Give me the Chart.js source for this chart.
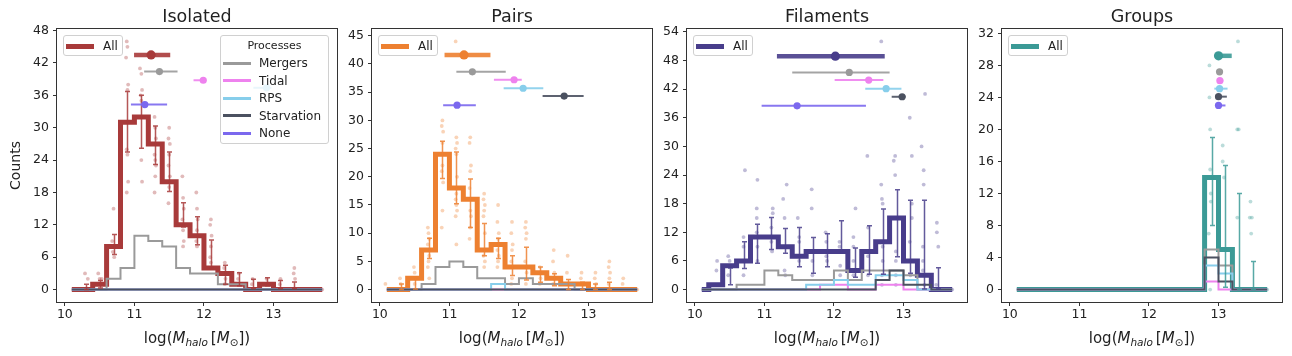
<!DOCTYPE html>
<html lang="en">
<head>
  <meta charset="UTF-8">
  <title>Halo mass distributions</title>
  <script src="https://cdn.jsdelivr.net/npm/chart.js"></script>
  <style>
    body {
      margin: 0;
      background: #fff;
      font-family: 'DejaVu Sans', sans-serif;
      color: #222;
    }

    #fig {
      position: relative;
      width: 1292px;
      height: 356px;
      overflow: hidden;
    }

    #fig canvas {
      position: absolute;
      top: 0;
    }

    .ptitle {
      position: absolute;
      top: 6px;
      width: 280px;
      text-align: center;
      font-size: 17.5px;
      line-height: 20px;
    }

    .xlabel {
      position: absolute;
      top: 328px;
      width: 280px;
      text-align: center;
      font-size: 15px;
      line-height: 20px;
      white-space: nowrap;
    }

    .xlabel sub {
      font-size: 0.7em;
      vertical-align: -0.3em;
      line-height: 0;
    }

    .leg {
      position: absolute;
      box-sizing: border-box;
      border: 1px solid #d0d0d0;
      border-radius: 3px;
      background: rgba(255, 255, 255, 0.8);
      font-size: 12px;
    }

    .row {
      position: absolute;
      left: 0;
      height: 16px;
      line-height: 16px;
      white-space: nowrap;
    }

    .sw {
      position: absolute;
      left: 2px;
      width: 28px;
    }

    .lab {
      position: absolute;
      left: 38px;
    }
  </style>
</head>
<body>
  <div id="fig"></div>

  <script>
    // bin centres (0.2 dex bins) and ticks
    const binCenters = [10.1, 10.3, 10.5, 10.7, 10.9, 11.1, 11.3, 11.5, 11.7, 11.9, 12.1, 12.3, 12.5, 12.7, 12.9, 13.1, 13.3, 13.5, 13.7];
    const xTicks = [10, 11, 12, 13];
    const procNames = ['Mergers', 'Tidal', 'RPS', 'Starvation', 'None'];
    const procColors = ['#9a9a9a', '#ee82ee', '#87ceeb', '#4b5160', '#7b68ee'];

    // ---- Isolated ----
    const isoAll = [0, 0, 1, 8, 31, 32, 27, 20, 12, 10, 4, 3, 1, 0, 1, 0, 0, 0, 0];
    const isoMergers = [0, 0, 0, 2, 4, 10, 9, 8, 4, 3, 3, 1, 1, 0, 0, 0, 0, 0, 0];
    const isoTidal = [0, 0, 0, 0, 0, 0, 0, 0, 0, 0, 0, 0, 0, 0, 0, 0, 0, 0, 0];
    const isoRPS = [0, 0, 0, 0, 0, 0, 0, 0, 0, 0, 0, 0, 0, 0, 0, 0, 0, 0, 0];
    const isoStarv = [0, 0, 0, 0, 0, 0, 0, 0, 0, 0, 0, 0, 0, 0, 0, 0, 0, 0, 0];
    const isoErrLo = [null, 0, 0.3, 6.5, 25.5, 26.2, 23.2, 18.2, 11.6, 8.3, 4, 1, 0.7, 0.2, 0.7, 0.2, 0.2, null, null];
    const isoErrHi = [null, 1, 1.7, 10.2, 36.7, 36, 30.3, 25.5, 16.1, 13.5, 9.2, 4.5, 3.1, 1.9, 2.2, 1.7, 1.4, null, null];
    const isoDotsX = [10.29, 10.33, 10.48, 10.5, 10.53, 10.49, 10.7, 10.68, 10.72, 10.69, 10.71,
      10.89, 10.9, 10.88, 10.91, 10.9, 10.89, 10.9, 10.91, 10.89,
      11.08, 11.1, 11.11, 11.09, 11.1, 11.08, 11.1, 11.11,
      11.29, 11.3, 11.31, 11.29, 11.3, 11.31, 11.3, 11.29,
      11.5, 11.49, 11.51, 11.5, 11.49, 11.51, 11.5, 11.49,
      11.69, 11.7, 11.71, 11.69, 11.7, 11.71, 11.7,
      11.89, 11.9, 11.91, 11.9, 11.89, 11.9,
      12.1, 12.09, 12.11, 12.1, 12.09, 12.1, 12.11,
      12.3, 12.29, 12.31, 12.3, 12.5, 12.49, 12.51, 12.7, 12.69, 12.9, 12.91,
      13.1, 13.09, 13.3, 13.29, 13.31, 13.5, 13.7];
    const isoDotsY = [3, 2, 3, 2, 2, 1, 15, 9, 8, 7, 6,
      46, 45, 43, 38, 37, 26, 25, 20, 18,
      41, 40, 37, 36, 35, 32, 24, 20,
      32, 30, 28, 25, 24, 23, 21, 18,
      30, 28, 27, 25, 23, 21, 19, 16,
      21, 17, 15, 13, 11, 9, 8,
      18, 15, 13, 11, 9, 8,
      13, 12, 10, 8, 6, 5, 4,
      5, 4, 2, 1, 3, 2, 1, 2, 1, 2, 1,
      2, 1, 4, 3, 2, 0, 0];
    // medians and ranges: All, Mergers, Tidal, RPS, Starvation, None
    const isoMedX = [11.24, 11.36, 11.99, 12.9, null, 11.15];
    const isoMedLo = [10.995, 11.14, 11.85, 12.71, null, 10.95];
    const isoMedHi = [11.515, 11.62, 11.99, 12.97, null, 11.47];
    const isoMedY = [43.5, 40.4, 38.8, 37.4, null, 34.3];

    // ---- Pairs ----
    const pairAll = [0, 0, 2, 7, 24, 18, 16, 7, 8, 4, 4, 3, 2, 1, 1, 0, 0, 0, 0];
    const pairMergers = [0, 0, 0, 1, 4, 5, 4, 2, 2, 1, 2, 1, 1, 1, 0, 0, 0, 0, 0];
    const pairTidal = [0, 0, 0, 0, 0, 0, 0, 0, 0, 0, 0, 0, 0, 0, 0, 0, 0, 0, 0];
    const pairRPS = [0, 0, 0, 0, 0, 0, 0, 0, 1, 0, 0, 0, 0, 0, 0, 0, 0, 0, 0];
    const pairStarv = [0, 0, 0, 0, 0, 0, 0, 0, 0, 0, 0, 0, 0, 0, 0, 0, 0, 0, 0];
    const pairErrLo = [null, 0, 0.1, 5.5, 19.7, 15.2, 11, 6, 5.5, 2.5, 1.7, 1.3, 0.7, 0, 0, 0, 0, null, null];
    const pairErrHi = [null, 1, 2.2, 9.1, 26.3, 24.4, 19.6, 11.7, 9.1, 6, 7.5, 4, 2.8, 1.8, 1.3, 1, 1.3, null, null];
    const pairDotsX = [10.08, 10.29, 10.3, 10.49, 10.5, 10.51, 10.5,
      10.69, 10.7, 10.71, 10.69, 10.7, 10.71, 10.7, 10.69, 10.71,
      10.9, 10.89, 10.91, 10.9, 10.9, 10.89, 10.91, 10.9, 10.89,
      11.09, 11.1, 11.11, 11.09, 11.1, 11.11, 11.1, 11.09, 11.1, 11.11, 11.09, 11.1,
      11.3, 11.29, 11.31, 11.3, 11.29, 11.3, 11.31, 11.3, 11.29,
      11.5, 11.49, 11.51, 11.5, 11.49, 11.51, 11.5, 11.49, 11.51, 11.5,
      11.7, 11.69, 11.71, 11.7, 11.69, 11.71, 11.7, 11.69,
      11.9, 11.89, 11.91, 11.9, 11.89, 11.91, 11.9, 11.89,
      12.1, 12.09, 12.11, 12.1, 12.09, 12.11, 12.1,
      12.3, 12.29, 12.31, 12.3, 12.5, 12.49, 12.51, 12.5, 12.49,
      12.7, 12.69, 12.71, 12.9, 12.89, 12.91, 13.1, 13.09, 13.11,
      13.3, 13.29, 13.31, 13.3, 13.29, 13.5, 13.49, 13.7];
    const pairDotsY = [1, 2, 1, 4, 3, 2, 1,
      11, 10, 9, 8, 7, 6, 5, 4, 2,
      30, 29, 28, 26, 22, 21, 19, 14, 11,
      44, 27, 26, 25, 24, 20, 17, 16, 15, 14, 13, 8,
      27, 26, 22, 21, 18, 14, 13, 11, 9,
      17, 16, 15, 14, 13, 10, 7, 6, 5, 4,
      15, 12, 10, 9, 7, 6, 5, 4,
      12, 10, 8, 7, 5, 4, 2, 1,
      12, 11, 10, 9, 5, 3, 1,
      4, 3, 2, 1, 7, 5, 3, 2, 1,
      6, 3, 1, 3, 2, 1, 3, 2, 1,
      5, 4, 3, 2, 1, 2, 1, 0];
    const pairMedX = [11.21, 11.33, 11.93, 12.06, 12.65, 11.11];
    const pairMedLo = [10.93, 11.10, 11.64, 11.78, 12.34, 10.91];
    const pairMedHi = [11.59, 11.81, 12.04, 12.35, 12.93, 11.38];
    const pairMedY = [41.6, 38.6, 37.2, 35.7, 34.3, 32.7];

    // ---- Filaments ----
    const filAll = [0, 1, 5, 6, 11, 11, 9, 7, 8, 8, 8, 4, 8, 10, 15, 6, 3, 0, 0];
    const filMergers = [0, 0, 0, 1, 1, 4, 3, 2, 2, 2, 4, 2, 4, 4, 4, 3, 0, 0, 0];
    const filTidal = [0, 0, 0, 0, 0, 0, 0, 0, 0, 1, 1, 0, 0, 1, 1, 0, 0, 0, 0];
    const filRPS = [0, 0, 0, 0, 0, 0, 0, 0, 1, 1, 2, 1, 1, 3, 3, 2, 0, 0, 0];
    const filStarv = [0, 0, 0, 0, 0, 0, 0, 0, 0, 0, 0, 0, 0, 2, 4, 1, 1, 0, 0];
    const filErrLo = [null, null, 1, 4.4, 5.5, 8.4, 7.6, 4.8, 3.4, 4.8, 7.6, 2.6, 3.2, 3.2, 6.9, 3.4, 0.1, 0.1, null];
    const filErrHi = [null, null, 4.5, 10, 13.7, 15.1, 12.8, 13, 10.9, 11.7, 14.4, 8.7, 13.4, 16.9, 20.9, 18.7, 18.7, 4.6, null];
    const filDotsX = [12.68, 13.31, 13.09, 13.26, 12.48, 12.88, 13.12, 12.86, 13.29, 12.88, 13.29, 12.68,
      10.72, 10.9, 11.32, 11.27, 11.68, 11.68, 12.31, 10.89, 11.12, 11.12, 11.29, 11.48,
      12.49, 12.69, 12.7, 13.12, 13.12, 13.48, 13.48, 13.5,
      10.48, 10.5, 10.32, 10.31, 10.48, 10.7, 10.7, 10.7, 10.7, 10.89, 10.89, 10.9, 10.9,
      11.1, 11.1, 11.11, 11.29, 11.3, 11.5, 11.5, 11.5, 11.69, 11.69, 11.69,
      11.88, 11.89, 11.88, 11.89, 11.9, 12.08, 12.08, 12.08, 12.09, 12.09,
      12.28, 12.28, 12.28, 12.28, 12.49, 12.49, 12.7, 12.7, 12.7, 12.69, 12.69,
      12.89, 12.89, 12.89, 12.89, 13.09, 13.09, 13.1, 13.28, 13.28, 13.28, 13.3, 13.47, 13.7];
    const filDotsY = [52, 41, 36, 30, 28, 28, 28, 27, 25, 24, 22, 22,
      25, 23, 22, 19, 21, 17, 17, 17, 17, 16, 15, 15,
      13, 19, 18, 18, 15, 14, 12, 9,
      7, 6, 6, 4, 3, 11, 9, 6, 3, 15, 12, 9, 6,
      13, 10, 8, 4, 3, 11, 10, 6, 8, 6, 3,
      12, 10, 8, 7, 6, 10, 9, 8, 5, 3,
      11, 9, 6, 3, 7, 3, 10, 9, 6, 3, 1,
      8, 6, 3, 1, 10, 6, 3, 9, 6, 4, 1, 1, 0];
    const filMedX = [12.02, 12.22, 12.5, 12.75, 12.98, 11.47];
    const filMedLo = [11.18, 11.40, 12.01, 12.45, 12.83, 10.96];
    const filMedHi = [12.73, 12.80, 12.71, 12.97, 13.03, 12.46];
    const filMedY = [48.9, 45.5, 43.9, 42.1, 40.4, 38.5];

    // ---- Groups ----
    const grpAll = [0, 0, 0, 0, 0, 0, 0, 0, 0, 0, 0, 0, 0, 0, 14, 5, 0, 0, 0];
    const grpMergers = [0, 0, 0, 0, 0, 0, 0, 0, 0, 0, 0, 0, 0, 0, 5, 3, 0, 0, 0];
    const grpTidal = [0, 0, 0, 0, 0, 0, 0, 0, 0, 0, 0, 0, 0, 0, 1, 0, 0, 0, 0];
    const grpRPS = [0, 0, 0, 0, 0, 0, 0, 0, 0, 0, 0, 0, 0, 0, 3, 2, 0, 0, 0];
    const grpStarv = [0, 0, 0, 0, 0, 0, 0, 0, 0, 0, 0, 0, 0, 0, 4, 1, 0, 0, 0];
    const grpErrLo = [null, null, null, null, null, null, null, null, null, null, null, null, null, null, 8, 0.3, 0, 0, null];
    const grpErrHi = [null, null, null, null, null, null, null, null, null, null, null, null, null, null, 19, 15.5, 12, 3.5, null];
    const grpDotsX = [13.28, 12.87, 12.87, 12.88, 13.27, 13.29, 13.06, 13.06, 13.08, 12.88, 12.89, 12.89,
      13.27, 13.46, 13.45, 13.48, 13.47, 12.86, 12.88, 13.3, 13.7];
    const grpDotsY = [31, 28, 24, 20, 20, 20, 18, 16, 14, 15, 12, 11,
      9, 11, 9, 9, 7, 7, 0, 0, 0];
    const grpMedX = [13.0, 13.015, 13.02, 13.015, 13.0, 13.0];
    const grpMedLo = [12.95, 12.98, 12.98, 12.94, 12.97, 12.98];
    const grpMedHi = [13.19, 13.06, 13.07, 13.13, 13.12, 13.1];
    const grpMedY = [29.2, 27.2, 26.1, 25.1, 24.1, 23.0];

    const panels = [
      { title: 'Isolated', color: '#a83a3a', left: 57, axisW: 57, yMin: -2.3, yMax: 48.3, yTicks: [0, 6, 12, 18, 24, 30, 36, 42, 48],
        all: isoAll, procs: [isoMergers, isoTidal, isoRPS, isoStarv], errLo: isoErrLo, errHi: isoErrHi,
        dotsX: isoDotsX, dotsY: isoDotsY, medX: isoMedX, medLo: isoMedLo, medHi: isoMedHi, medY: isoMedY },
      { title: 'Pairs', color: '#ed8030', left: 372, axisW: 40, yMin: -2.2, yMax: 46.2, yTicks: [0, 5, 10, 15, 20, 25, 30, 35, 40, 45],
        all: pairAll, procs: [pairMergers, pairTidal, pairRPS, pairStarv], errLo: pairErrLo, errHi: pairErrHi,
        dotsX: pairDotsX, dotsY: pairDotsY, medX: pairMedX, medLo: pairMedLo, medHi: pairMedHi, medY: pairMedY },
      { title: 'Filaments', color: '#483d8b', left: 687, axisW: 40, yMin: -2.6, yMax: 54.6, yTicks: [0, 6, 12, 18, 24, 30, 36, 42, 48, 54],
        all: filAll, procs: [filMergers, filTidal, filRPS, filStarv], errLo: filErrLo, errHi: filErrHi,
        dotsX: filDotsX, dotsY: filDotsY, medX: filMedX, medLo: filMedLo, medHi: filMedHi, medY: filMedY },
      { title: 'Groups', color: '#3b9a96', left: 1002, axisW: 40, yMin: -1.55, yMax: 32.55, yTicks: [0, 4, 8, 12, 16, 20, 24, 28, 32],
        all: grpAll, procs: [grpMergers, grpTidal, grpRPS, grpStarv], errLo: grpErrLo, errHi: grpErrHi,
        dotsX: grpDotsX, dotsY: grpDotsY, medX: grpMedX, medLo: grpMedLo, medHi: grpMedHi, medY: grpMedY }
    ];

    const xMin = 9.887, xMax = 13.913;
    const plotW = 280, padRight = 6;

    Chart.defaults.font.family = "'DejaVu Sans', sans-serif";

    function alpha(hex, a) {
      const n = parseInt(hex.slice(1), 16);
      return `rgba(${n >> 16}, ${(n >> 8) & 255}, ${n & 255}, ${a})`;
    }

    // error bars, median ranges and the axes frame
    const panelDecor = {
      id: 'panelDecor',
      afterDatasetsDraw(chart, args, p) {
        const { ctx, chartArea: a, scales: { x, y } } = chart;
        ctx.save();
        ctx.strokeStyle = alpha(p.color, 0.85);
        ctx.lineWidth = 1.5;
        p.errLo.forEach((lo, i) => {
          if (lo === null) return;
          const px = Math.round(x.getPixelForValue(binCenters[i])) + 0.5;
          const y0 = y.getPixelForValue(lo), y1 = y.getPixelForValue(p.errHi[i]);
          ctx.beginPath();
          ctx.moveTo(px, y0); ctx.lineTo(px, y1);
          ctx.moveTo(px - 2.5, y0); ctx.lineTo(px + 2.5, y0);
          ctx.moveTo(px - 2.5, y1); ctx.lineTo(px + 2.5, y1);
          ctx.stroke();
        });

        const medColors = [p.color].concat(procColors);
        p.medX.forEach((m, i) => {
          if (m === null) return;
          const py = y.getPixelForValue(p.medY[i]);
          const big = i === 0;
          ctx.strokeStyle = alpha(medColors[i], 0.9);
          ctx.lineWidth = big ? 4.5 : 2;
          ctx.lineCap = 'butt';
          ctx.beginPath();
          ctx.moveTo(x.getPixelForValue(p.medLo[i]), py);
          ctx.lineTo(x.getPixelForValue(p.medHi[i]), py);
          ctx.stroke();
          ctx.fillStyle = medColors[i];
          ctx.beginPath();
          ctx.arc(x.getPixelForValue(m), py, big ? 4.6 : 3.6, 0, Math.PI * 2);
          ctx.fill();
        });

        ctx.strokeStyle = '#333';
        ctx.lineWidth = 1;
        ctx.strokeRect(a.left - 0.5, a.top - 0.5, a.width + 1, a.height + 1);
        ctx.restore();
      }
    };

    function stepData(values) {
      return values.map((v, i) => ({ x: binCenters[i], y: v }));
    }

    const fig = document.getElementById('fig');

    panels.forEach((p, idx) => {
      const canvas = document.createElement('canvas');
      canvas.width = p.axisW + plotW + padRight;
      canvas.height = 356;
      canvas.style.left = (p.left - p.axisW) + 'px';
      fig.appendChild(canvas);

      const datasets = [];
      datasets.push({
        data: p.dotsX.map((v, i) => ({ x: v, y: p.dotsY[i] })),
        showLine: false, pointRadius: 1.9, pointBorderWidth: 0,
        pointBackgroundColor: alpha(p.color, 0.35), order: 10
      });
      datasets.push({
        data: stepData(p.all), stepped: 'middle', borderColor: p.color, borderWidth: 5,
        pointRadius: 0, fill: false, order: 9
      });
      p.procs.forEach((vals, k) => {
        datasets.push({
          data: stepData(vals), stepped: 'middle', borderColor: procColors[k], borderWidth: 2,
          pointRadius: 0, fill: false, order: 5 - k
        });
      });

      new Chart(canvas, {
        type: 'line',
        data: { datasets },
        options: {
          responsive: false,
          animation: false,
          layout: { padding: { top: 29, right: padRight, left: 0, bottom: 0 } },
          plugins: {
            legend: { display: false },
            tooltip: { enabled: false },
            panelDecor: p
          },
          scales: {
            x: {
              type: 'linear', min: xMin, max: xMax,
              afterBuildTicks: s => { s.ticks = xTicks.map(v => ({ value: v })); },
              afterFit: s => { s.height = 54; },
              grid: { drawOnChartArea: false, tickLength: 4, color: '#333' },
              border: { display: false },
              ticks: { color: '#222', font: { size: 12.5 }, padding: 1, maxRotation: 0, autoSkip: false }
            },
            y: {
              min: p.yMin, max: p.yMax,
              afterBuildTicks: s => { s.ticks = p.yTicks.map(v => ({ value: v })); },
              afterFit: s => { s.width = p.axisW; },
              grid: { drawOnChartArea: false, tickLength: 4, color: '#333' },
              border: { display: false },
              ticks: { color: '#222', font: { size: 12.5 }, padding: 4, autoSkip: false },
              title: { display: idx === 0, text: 'Counts', color: '#222', font: { size: 14 }, padding: { top: 8, bottom: 0 } }
            }
          }
        },
        plugins: [panelDecor]
      });

      const t = document.createElement('div');
      t.className = 'ptitle';
      t.style.left = p.left + 'px';
      t.textContent = p.title;
      fig.appendChild(t);

      const xl = document.createElement('div');
      xl.className = 'xlabel';
      xl.style.left = p.left + 'px';
      xl.innerHTML = 'log(<i>M</i><sub><i>halo</i></sub>&#8201;[<i>M</i><sub>⊙</sub>])';
      fig.appendChild(xl);

      const lg = document.createElement('div');
      lg.className = 'leg';
      lg.style.cssText = `left:${p.left + 6}px;top:35px;width:60px;height:21px`;
      lg.innerHTML = `<div class="row" style="top:2px"><span class="sw" style="top:6px;height:5px;background:${p.color}"></span><span class="lab" style="left:39px">All</span></div>`;
      fig.appendChild(lg);

      if (idx === 0) {
        const pl = document.createElement('div');
        pl.className = 'leg';
        pl.style.cssText = `left:220px;top:35px;width:109px;height:109px`;
        let html = '<div class="row" style="top:2px;width:100%;text-align:center;font-size:11px">Processes</div>';
        procNames.forEach((name, k) => {
          html += `<div class="row" style="top:${19 + k * 17.5}px"><span class="sw" style="top:6.5px;height:3px;background:${procColors[k]}"></span><span class="lab">${name}</span></div>`;
        });
        pl.innerHTML = html;
        fig.appendChild(pl);
      }
    });
  </script>
</body>
</html>
